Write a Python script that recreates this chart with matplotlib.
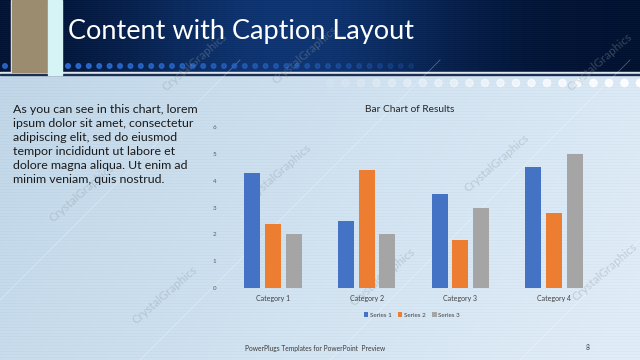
import matplotlib.pyplot as plt
import numpy as np
from matplotlib.patches import Rectangle, Circle

plt.rcParams['font.family'] = ['Lato', 'DejaVu Sans']

# chart data
categories = ['Category 1', 'Category 2', 'Category 3', 'Category 4']
series_names = ['Series 1', 'Series 2', 'Series 3']
series1 = [4.3, 2.5, 3.5, 4.5]
series2 = [2.4, 4.4, 1.8, 2.8]
series3 = [2.0, 2.0, 3.0, 5.0]
y_ticks = [0, 1, 2, 3, 4, 5, 6]

slide_title = 'Content with Caption Layout'
chart_title = 'Bar Chart of Results'
caption_lines = [
    'As you can see in this chart, lorem',
    'ipsum dolor sit amet, consectetur',
    'adipiscing elit, sed do eiusmod',
    'tempor incididunt ut labore et',
    'dolore magna aliqua. Ut enim ad',
    'minim veniam, quis nostrud.',
]
footer = 'PowerPlugs Templates for PowerPoint  Preview'
page_no = '8'

colors = ['#4472C4', '#ED7D31', '#A5A5A5']

W, H = 640, 360
fig = plt.figure(figsize=(6.4, 3.6), dpi=100)

# ---- slide background (pixel coordinates) ----
bg = fig.add_axes([0, 0, 1, 1])
bg.set_xlim(0, W)
bg.set_ylim(H, 0)
bg.axis('off')

xx = np.linspace(0, 1, W)[None, :]
yy = np.linspace(0, 1, H)[:, None]
left = np.array([0.75, 0.84, 0.91])
right = np.array([0.88, 0.93, 0.975])
t = np.clip(xx * 0.8 + yy * 0.25, 0, 1)[..., None]
img = left * (1 - t) + right * t
stripe = (np.arange(H) % 3 == 0)[:, None, None] * -0.018
img = np.clip(img + stripe, 0, 1)

# dark header band
hx = np.linspace(0, 1, W)
glow = np.exp(-((hx - 0.45) / 0.28) ** 2)[None, :, None]
dark = np.array([0.02, 0.08, 0.20])
mid = np.array([0.07, 0.22, 0.46])
head = dark * (1 - glow) + mid * glow
head = np.repeat(head, 72, axis=0)
head = head + (np.arange(72) % 2 == 0)[:, None, None] * -0.02
img[:72] = np.clip(head, 0, 1)
bg.imshow(img, extent=(0, W, H, 0), aspect='auto', zorder=0)

bg.add_patch(Rectangle((0, 72), W, 1.6, color='#dfe6ee', zorder=1))
bg.add_patch(Rectangle((0, 73.6), W, 1.6, color='#1b2f52', zorder=1))
bg.add_patch(Rectangle((10.5, 0), 1.2, 72, color='#e8eef2', zorder=2))
bg.add_patch(Rectangle((12, 0), 36, 72, color='#9b8b6f', zorder=2))
bg.add_patch(Rectangle((48, 0), 14, 75, color='#d6f3f5', zorder=2))

# dotted rows
for i, x in enumerate(np.arange(68, 420, 10.4)):
    a = 0.9 * (1 - i / 40)
    bg.add_patch(Circle((x, 66), 2.3, color='#2d6fd6', alpha=max(a, 0.1), zorder=2))
bg.add_patch(Circle((5, 66), 2.3, color='#2d6fd6', alpha=0.8, zorder=2))
for i, x in enumerate(np.arange(640, 320, -15.5)):
    a = 0.95 * (1 - i / 22)
    bg.add_patch(Circle((x, 83), 3.6, color='white', alpha=max(a, 0.08), zorder=2))

# faint diagonal lines
for x0 in [-60, 140, 330, 520]:
    bg.plot([x0, x0 + 300], [360, 60], color='white', lw=0.6, alpha=0.3, zorder=1)

# watermarks
marks = [(195, 62), (305, 55), (600, 62), (82, 193), (279, 173),
         (497, 163), (165, 295), (383, 277), (605, 272)]
for mx, my in marks:
    bg.text(mx, my, 'CrystalGraphics', rotation=41, fontsize=8.5, color='#8f9aa4',
            alpha=0.38, ha='center', va='center', zorder=3)

# ---- texts on the slide ----
bg.text(68, 31, slide_title, fontsize=19.5, color='white',
        va='center', ha='left', zorder=4)
for i, line in enumerate(caption_lines):
    bg.text(13, 113 + 14 * i, line, fontsize=8.9, color='#1a1a1a',
            va='baseline', ha='left', zorder=4)
bg.text(410, 110, chart_title, fontsize=7.3, color='#262626', ha='center', va='center', zorder=4)
bg.text(245, 348, footer, fontsize=4.8, color='#3a3a3a', ha='left', va='center', zorder=4)
bg.text(588, 348, page_no, fontsize=4.8, color='#3a3a3a', ha='center', va='center', zorder=4)

# ---- chart ----
ax = fig.add_axes([226 / W, 1 - 288 / H, 375 / W, 161 / H])
ax.patch.set_alpha(0)
x = np.arange(len(categories))
bw = 0.171
step = 0.222
for k, (vals, c, name) in enumerate(zip([series1, series2, series3], colors, series_names)):
    ax.bar(x + (k - 1) * step, vals, width=bw, color=c, label=name, zorder=3)

ax.set_xlim(-0.5, len(categories) - 0.5)
ax.set_ylim(0, 6)
ax.set_yticks(y_ticks)
ax.set_yticklabels([str(v) for v in y_ticks], fontsize=4.5, color='#595959')
ax.set_xticks(x)
ax.set_xticklabels(categories, fontsize=5, color='#404040')
ax.tick_params(axis='y', length=0, pad=7)
ax.tick_params(axis='x', length=0, pad=5)
for s in ax.spines.values():
    s.set_visible(False)

fig.legend(loc='center', bbox_to_anchor=(412 / W, 1 - 315 / H), ncol=3, frameon=False,
           fontsize=4.5, handlelength=0.7, handleheight=0.7, handletextpad=0.3,
           columnspacing=1.0, labelcolor='#404040')

fig.savefig('out.png', dpi=100)
